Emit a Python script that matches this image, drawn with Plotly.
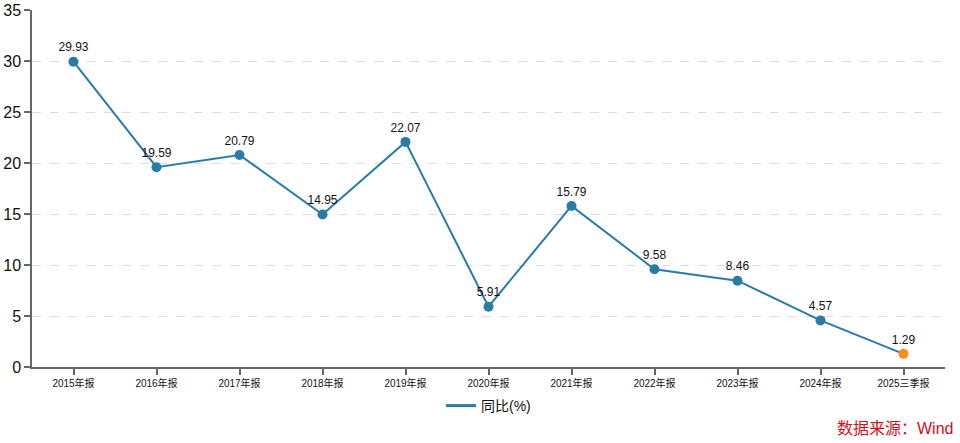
import plotly.graph_objects as go

categories = ["2015年报", "2016年报", "2017年报", "2018年报", "2019年报", "2020年报",
              "2021年报", "2022年报", "2023年报", "2024年报", "2025三季报"]
values = [29.93, 19.59, 20.79, 14.95, 22.07, 5.91, 15.79, 9.58, 8.46, 4.57, 1.29]
y_ticks = [0, 5, 10, 15, 20, 25, 30, 35]

LINE = "#2b7ba8"
ORANGE = "#f7901e"
FONT = "Helvetica, Arial, 'Noto Sans CJK SC', sans-serif"

marker_colors = [LINE] * (len(values) - 1) + [ORANGE]

fig = go.Figure()
fig.add_trace(go.Scatter(
    x=categories, y=values, mode="lines+markers+text",
    line=dict(color=LINE, width=2),
    marker=dict(size=10, color=marker_colors),
    text=[f"{v:.2f}" for v in values], textposition="top center",
    textfont=dict(size=12, color="#111", family=FONT),
    showlegend=False, cliponaxis=False,
))
fig.add_trace(go.Scatter(
    x=[None], y=[None], mode="lines", name="同比(%)",
    line=dict(color=LINE, width=3),
))

fig.update_layout(
    width=960, height=443,
    margin=dict(l=32, r=15, t=10, b=76, autoexpand=False),
    plot_bgcolor="white", paper_bgcolor="white",
    font=dict(family=FONT, color="#111"),
    xaxis=dict(
        type="category", range=[-0.5, 10.5], automargin=False,
        showline=True, linecolor="#666", linewidth=1.5,
        ticks="outside", ticklen=6, tickcolor="#666", tickwidth=1.5,
        tickfont=dict(size=10, color="#111"), showgrid=False,
    ),
    yaxis=dict(
        range=[0, 35], tickvals=y_ticks, automargin=False,
        showline=True, linecolor="#666", linewidth=1.5,
        ticks="outside", ticklen=6, tickcolor="#666", tickwidth=1.5,
        tickfont=dict(size=16, color="#111"),
        showgrid=True, gridcolor="#dddddd", griddash="dash", gridwidth=1,
        zeroline=False,
    ),
    legend=dict(orientation="h", x=0.5, xanchor="center",
                yref="container", y=37 / 443, yanchor="middle",
                font=dict(size=14, color="#111")),
    annotations=[dict(
        text="数据来源：Wind", xref="paper", yref="paper",
        x=1.011, y=-0.171, xanchor="right", yanchor="middle", showarrow=False,
        font=dict(size=16, color="#d0101a", family=FONT),
    )],
)

fig.write_html(
    "out.html",
    config={"displayModeBar": False},
    post_script="document.body.style.margin='0';document.body.style.padding='0';",
)
